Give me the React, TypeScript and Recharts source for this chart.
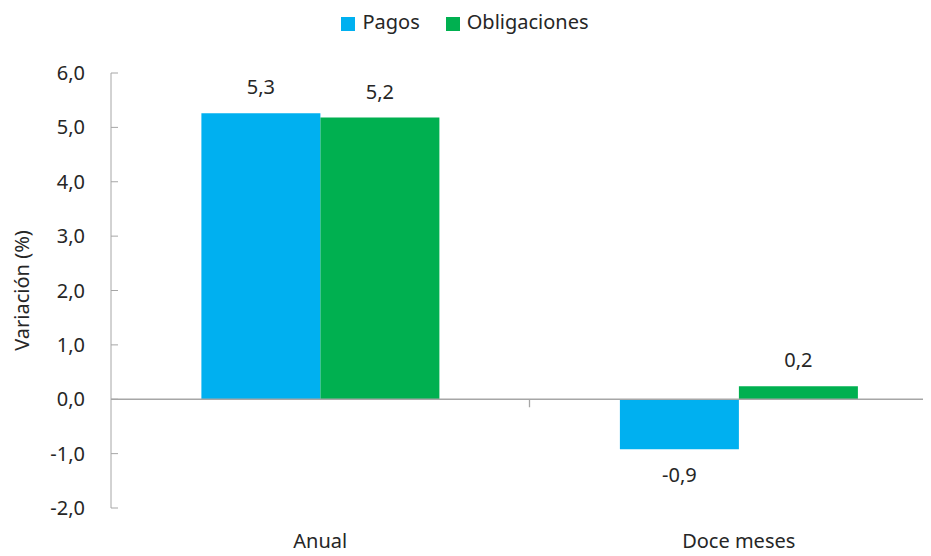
import { BarChart, Bar, XAxis, YAxis, Legend, ReferenceLine, LabelList } from 'recharts'

const categories = ['Anual', 'Doce meses']
const pagos = [5.26, -0.92]
const obligaciones = [5.18, 0.24]
const yTicks = [-2, -1, 0, 1, 2, 3, 4, 5, 6]
const seriesOrder = ['Pagos', 'Obligaciones']

const data = categories.map((name, i) => ({
  name,
  pagos: pagos[i],
  obligaciones: obligaciones[i],
}))

const FONT = '"Noto Sans", "DejaVu Sans", sans-serif'
const AXIS = '#a6a6a6'
const TEXT = '#262626'

const fmt = (v: number) => v.toFixed(1).replace('.', ',')

// zero line with the small category separator tick in the middle
function ZeroLine(props: any) {
  const { x1, x2, y1 } = props
  const mid = (x1 + x2) / 2
  return (
    <g>
      <line x1={x1} x2={x2} y1={y1} y2={y1} stroke={AXIS} strokeWidth={1.3} />
      <line x1={mid} x2={mid} y1={y1} y2={y1 + 8} stroke={AXIS} strokeWidth={1.3} />
    </g>
  )
}

export default function App() {
  return (
    <div style={{ width: 915, height: 548, overflow: 'hidden', fontFamily: FONT }}>
      <BarChart
        width={940}
        height={548}
        data={data}
        margin={{ top: 38, right: 0, left: 0, bottom: 0 }}
        barCategoryGap="21.6%"
        barGap={0}
      >
        <Legend
          verticalAlign="top"
          align="center"
          iconType="square"
          iconSize={14}
          itemSorter={(item: any) => seriesOrder.indexOf(item.value)}
          wrapperStyle={{ top: 0, fontSize: 20, color: TEXT }}
          formatter={(value) => <span style={{ color: TEXT, marginLeft: 3, marginRight: 16 }}>{value}</span>}
        />
        <XAxis
          dataKey="name"
          axisLine={false}
          tickLine={false}
          tickSize={0}
          tickMargin={26}
          height={48}
          tick={{ fill: TEXT, fontSize: 20 }}
        />
        <YAxis
          domain={[-2, 6]}
          ticks={yTicks}
          interval={0}
          width={103}
          tickFormatter={fmt}
          stroke={AXIS}
          tickSize={-7}
          tickMargin={33}
          tick={{ fill: TEXT, fontSize: 20 }}
          label={{
            value: 'Variación (%)',
            angle: -90,
            position: 'insideLeft',
            offset: 14,
            style: { textAnchor: 'middle', fill: TEXT, fontSize: 20 },
          }}
        />
        <ReferenceLine y={0} shape={ZeroLine} />
        <Bar dataKey="pagos" name="Pagos" fill="#00b0f0" isAnimationActive={false}>
          <LabelList dataKey="pagos" position="top" offset={19} formatter={(v: any) => fmt(v)} style={{ fill: TEXT, fontSize: 20 }} />
        </Bar>
        <Bar dataKey="obligaciones" name="Obligaciones" fill="#00b050" isAnimationActive={false}>
          <LabelList dataKey="obligaciones" position="top" offset={19} formatter={(v: any) => fmt(v)} style={{ fill: TEXT, fontSize: 20 }} />
        </Bar>
      </BarChart>
    </div>
  )
}
